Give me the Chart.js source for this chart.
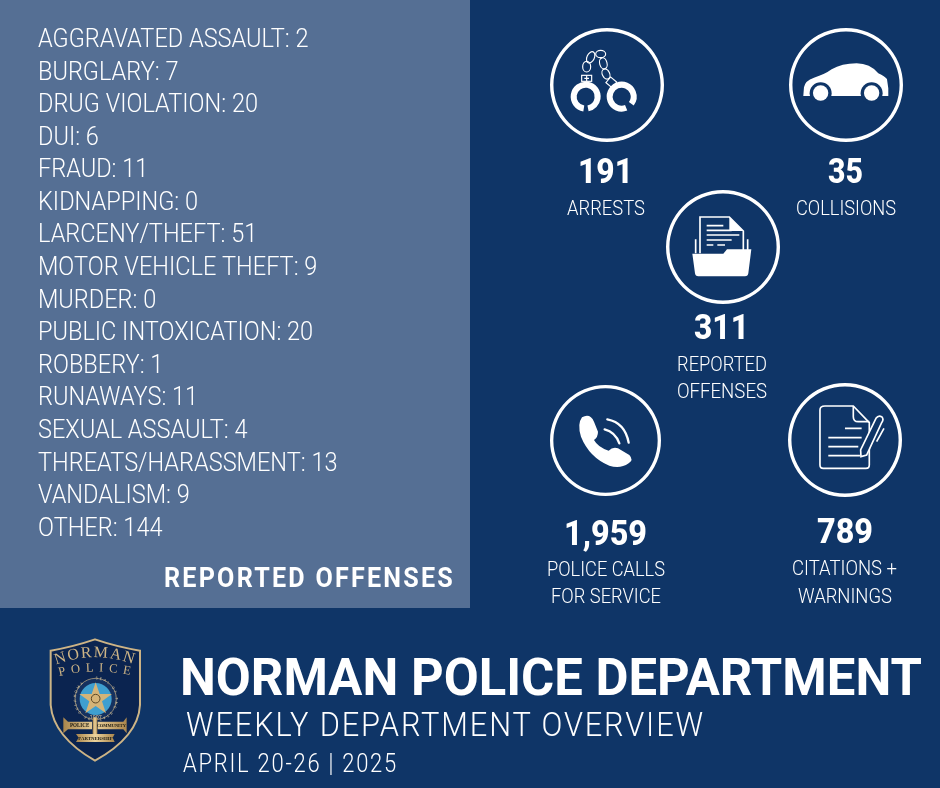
<!DOCTYPE html>
<html>
<head>
<meta charset="utf-8">
<title>Norman Police Department weekly overview</title>
<script src="https://cdn.jsdelivr.net/npm/chart.js@4"></script>
<style>
  html, body { margin: 0; padding: 0; background: #0f3567; }
  #page { position: relative; width: 940px; height: 788px; overflow: hidden; background: #0f3567; }
  #panel { position: absolute; left: 0; top: 0; width: 470px; height: 608px; background: #556f94; }
  #offenseChart { position: absolute; left: 38px; top: 9px; }
  .ring { position: absolute; }
  #art { position: absolute; left: 0; top: 0; }
  #art text { font-family: Roboto, sans-serif; fill: #fff; }
</style>
</head>
<body>
<div id="page">
  <div id="panel"></div>
  <canvas id="offenseChart" width="432" height="552"></canvas>
  <div id="rings"></div>
  <svg id="art" width="940" height="788" xmlns="http://www.w3.org/2000/svg">
    <!-- handcuffs -->
    <g transform="translate(570,40) scale(0.3333)" fill="none" stroke="#fff">
      <circle cx="47" cy="170" r="36" stroke-width="18" stroke-dasharray="212 14" transform="rotate(99 47 170)"/>
      <circle cx="155" cy="170" r="36" stroke-width="18" stroke-dasharray="205 21" transform="rotate(68 155 170)"/>
      <g stroke-width="3.5">
        <ellipse cx="50" cy="80" rx="12" ry="16"/>
        <ellipse cx="62" cy="52" rx="11" ry="18" transform="rotate(25 62 52)"/>
        <ellipse cx="92" cy="42" rx="15" ry="11"/>
        <ellipse cx="100" cy="70" rx="11" ry="17" transform="rotate(-15 100 70)"/>
        <ellipse cx="108" cy="102" rx="11" ry="16" transform="rotate(-25 108 102)"/>
        <rect x="35" y="106" width="30" height="18"/>
        <path d="M50 106V124M43 115H57"/>
        <rect x="112" y="116" width="24" height="22" transform="rotate(40 124 127)"/>
      </g>
    </g>
    <!-- car -->
    <g transform="translate(530,10) scale(0.3333)">
      <path fill="#fff" d="M820 258L822 232Q825 212 852 203Q885 193 905 178Q935 160 980 160Q1020 160 1045 190Q1065 200 1071 207L1075 235V258Z"/>
      <circle cx="872" cy="250" r="33" fill="#0f3567"/>
      <circle cx="1025" cy="250" r="33" fill="#0f3567"/>
      <circle cx="872" cy="249" r="23" fill="#fff"/>
      <circle cx="1025" cy="249" r="23" fill="#fff"/>
    </g>
    <!-- folder -->
    <g transform="translate(680,205) scale(0.3333)">
      <path fill="none" stroke="#fff" stroke-width="5" d="M47 145V103M203 145V103"/>
      <path fill="#0f3567" stroke="#fff" stroke-width="5" d="M60 145V36H148L190 78V140"/>
      <path fill="#fff" d="M148 36L190 78H148Z"/>
      <path fill="none" stroke="#fff" stroke-width="5" d="M80 62H130M80 76H155M80 90H178M80 105H155M80 120H100M112 120H135"/>
      <path fill="#fff" d="M37 146H130L141 133H214L205 205Q204 214 195 214H55Q46 214 45 205Z"/>
    </g>
    <!-- phone -->
    <g transform="translate(530,300) scale(0.3333)">
      <path fill="#fff" d="M156 352Q180 338 192 365L204 395Q204 412 192 420Q204 442 236 452Q248 440 264 445L298 465Q312 480 296 490Q270 508 238 497Q178 472 153 410Q141 372 156 352Z"/>
      <path fill="none" stroke="#fff" stroke-width="7" stroke-linecap="round" d="M224 388Q256 396 268 430M232 358Q285 368 296 428"/>
    </g>
    <!-- citation sheet -->
    <g transform="translate(530,300) scale(0.3333)" fill="none" stroke="#fff" stroke-width="5">
      <path d="M885 318H970L1018 368V495Q1018 505 1008 505H880Q870 505 870 495V330Q870 318 885 318Z"/>
      <path d="M970 318V350Q970 365 985 365H1018"/>
      <path d="M945 385H995M895 413H995M895 440H985M895 467H990"/>
      <path fill="#0f3567" d="M992 450L1038 355Q1045 345 1055 350Q1063 358 1055 368L1010 465L993 470Z"/>
      <path d="M1062 385L1040 425"/>
    </g>
    <!-- badge -->
    <g transform="translate(30,630) scale(0.3333)">
      <defs>
        <path id="arcNorman" d="M78 104Q195 60 314 104"/>
        <path id="arcPolice" d="M88 138Q195 112 305 136"/>
        <path id="arcSeal" d="M197 148a59 59 0 1 1 -0.1 0"/>
        <linearGradient id="gold" x1="0" x2="1"><stop offset="0" stop-color="#a9854c"/><stop offset=".5" stop-color="#ecd29c"/><stop offset="1" stop-color="#a9854c"/></linearGradient>
      </defs>
      <path fill="#0b2450" stroke="#cdb486" stroke-width="6" d="M62 62Q130 50 195 28Q260 50 330 62V225Q325 320 195 392Q70 320 62 225Z"/>
      <text font-size="48" style="fill:#cdb486;font-family:'Liberation Serif',serif"><textPath href="#arcNorman" textLength="236">NORMAN</textPath></text>
      <text font-size="38" style="fill:#cdb486;font-family:'Liberation Serif',serif"><textPath href="#arcPolice" textLength="214">POLICE</textPath></text>
      <circle cx="197" cy="207" r="62" fill="#15315f" stroke="#cdb486" stroke-width="2"/>
      <circle cx="197" cy="207" r="48" fill="#3f9fd0"/>
      <text font-size="11" style="fill:#d9c79f"><textPath href="#arcSeal" textLength="330">SEAL OF THE STATE OF OKLAHOMA</textPath></text>
      <path fill="#d4b478" d="M197 157L209 192L246 192L216 214L228 250L197 228L166 250L178 214L148 192L185 192Z"/>
      <circle cx="197" cy="206" r="13" fill="none" stroke="#5a4726" stroke-width="3"/>
      <text x="197" y="266" font-size="16" text-anchor="middle" style="fill:#d9c79f">1907</text>
      <path fill="url(#gold)" d="M100 262L114 275H186V298H114L100 310ZM290 262L280 275H203V298H280L290 310Z"/>
      <rect x="188" y="262" width="14" height="70" fill="url(#gold)"/>
      <path fill="url(#gold)" d="M138 312H254L248 323L254 336H138L146 323Z"/>
      <text x="120" y="292" font-size="16" textLength="58" lengthAdjust="spacingAndGlyphs" style="fill:#1c1a12;font-family:'Liberation Serif',serif;font-weight:700">POLICE</text>
      <text x="200" y="292" font-size="15" textLength="88" lengthAdjust="spacingAndGlyphs" style="fill:#1c1a12;font-family:'Liberation Serif',serif;font-weight:700">COMMUNITY</text>
      <text x="145" y="329" font-size="15" textLength="103" lengthAdjust="spacingAndGlyphs" style="fill:#1c1a12;font-family:'Liberation Serif',serif;font-weight:700">PARTNERSHIP</text>
    </g>
    <g id="texts"></g>
  </svg>
</div>
<script>
const offenseNames = ['AGGRAVATED ASSAULT', 'BURGLARY', 'DRUG VIOLATION', 'DUI', 'FRAUD', 'KIDNAPPING', 'LARCENY/THEFT',
    'MOTOR VEHICLE THEFT', 'MURDER', 'PUBLIC INTOXICATION', 'ROBBERY', 'RUNAWAYS', 'SEXUAL ASSAULT',
    'THREATS/HARASSMENT', 'VANDALISM', 'OTHER'];
const offenseCounts = [2, 7, 20, 6, 11, 0, 51, 9, 0, 20, 1, 11, 4, 13, 9, 144];

const statNames = ['ARRESTS', 'COLLISIONS', 'REPORTED OFFENSES', 'POLICE CALLS FOR SERVICE', 'CITATIONS + WARNINGS'];
const statValues = [191, 35, 311, 1959, 789];

// squeeze for the tick labels, the installed fonts are wider than the original condensed face
const squeeze = 0.923;

const squeezePlugin = {
    id: 'squeeze',
    beforeDraw(chart) { chart.ctx.save(); chart.ctx.scale(squeeze, 1); },
    afterDraw(chart) { chart.ctx.restore(); }
};

new Chart(document.getElementById('offenseChart'), {
    type: 'bar',
    plugins: [squeezePlugin],
    data: {
        labels: offenseNames.map((name, i) => name + ': ' + offenseCounts[i]),
        datasets: [{ data: offenseCounts, backgroundColor: 'rgba(0,0,0,0)' }]
    },
    options: {
        indexAxis: 'y',
        responsive: false,
        animation: false,
        layout: { padding: 0 },
        plugins: { legend: { display: false }, tooltip: { enabled: false } },
        scales: {
            x: { display: false, beginAtZero: true },
            y: {
                // keep the long labels, otherwise the axis is cut at half the canvas
                afterFit(scale) { scale.width = 425; },
                border: { display: false },
                grid: { display: false, drawTicks: false },
                ticks: {
                    autoSkip: false,
                    crossAlign: 'far',
                    padding: 0,
                    color: '#ffffff',
                    font: { family: 'Roboto', size: 25.5, weight: '300' }
                }
            }
        }
    }
});

// one thin full ring per headline figure
const ringBoxes = [[550, 28, 114], [789, 28, 114], [666, 190, 114], [550, 385, 111], [788, 383, 114]];
const ringsHost = document.getElementById('rings');
statValues.forEach((value, i) => {
    const box = ringBoxes[i];
    const canvas = document.createElement('canvas');
    canvas.className = 'ring';
    canvas.width = box[2];
    canvas.height = box[2];
    canvas.style.left = box[0] + 'px';
    canvas.style.top = box[1] + 'px';
    ringsHost.appendChild(canvas);
    new Chart(canvas, {
        type: 'doughnut',
        data: { labels: [statNames[i]], datasets: [{ data: [value], backgroundColor: '#ffffff', borderWidth: 0 }] },
        options: {
            responsive: false,
            animation: false,
            cutout: '94%',
            plugins: { legend: { display: false }, tooltip: { enabled: false } }
        }
    });
});

// text fitted to a width, x and baseline come from the reference
function put(str, x, base, width, size, weight, spacing) {
    const t = document.createElementNS('http://www.w3.org/2000/svg', 'text');
    t.textContent = str;
    t.setAttribute('x', x);
    t.setAttribute('y', base);
    t.setAttribute('textLength', width);
    t.setAttribute('lengthAdjust', 'spacingAndGlyphs');
    t.setAttribute('font-size', size);
    t.setAttribute('font-weight', weight);
    if (spacing) t.style.letterSpacing = spacing + 'px';
    document.getElementById('texts').appendChild(t);
}

const valueSpots = [[578, 183, 55], [828, 183, 35], [694, 339, 55], [564, 545, 83], [817, 543, 56]];
statValues.forEach((value, i) => {
    const s = valueSpots[i];
    put(value.toLocaleString('en-US'), s[0], s[1], s[2], 35, 800);
});

put('ARRESTS', 567, 215, 78, 21, 300);
put('COLLISIONS', 796, 215, 100, 21, 300);
put('REPORTED', 677, 371, 90, 21, 300);
put('OFFENSES', 677, 398, 90, 21, 300);
put('POLICE CALLS', 547, 576, 118, 21, 300);
put('FOR SERVICE', 551, 603, 110, 21, 300);
put('CITATIONS +', 792, 575, 105, 21, 300);
put('WARNINGS', 798, 603, 94, 21, 300);

put('REPORTED OFFENSES', 164, 587, 291, 28, 700, 2.5);
put('NORMAN POLICE DEPARTMENT', 180, 695, 742, 52, 700);
put('WEEKLY DEPARTMENT OVERVIEW', 186, 736, 519, 33, 300, 2);
put('APRIL 20-26 | 2025', 183, 772, 215, 25, 300, 2);
</script>
</body>
</html>
